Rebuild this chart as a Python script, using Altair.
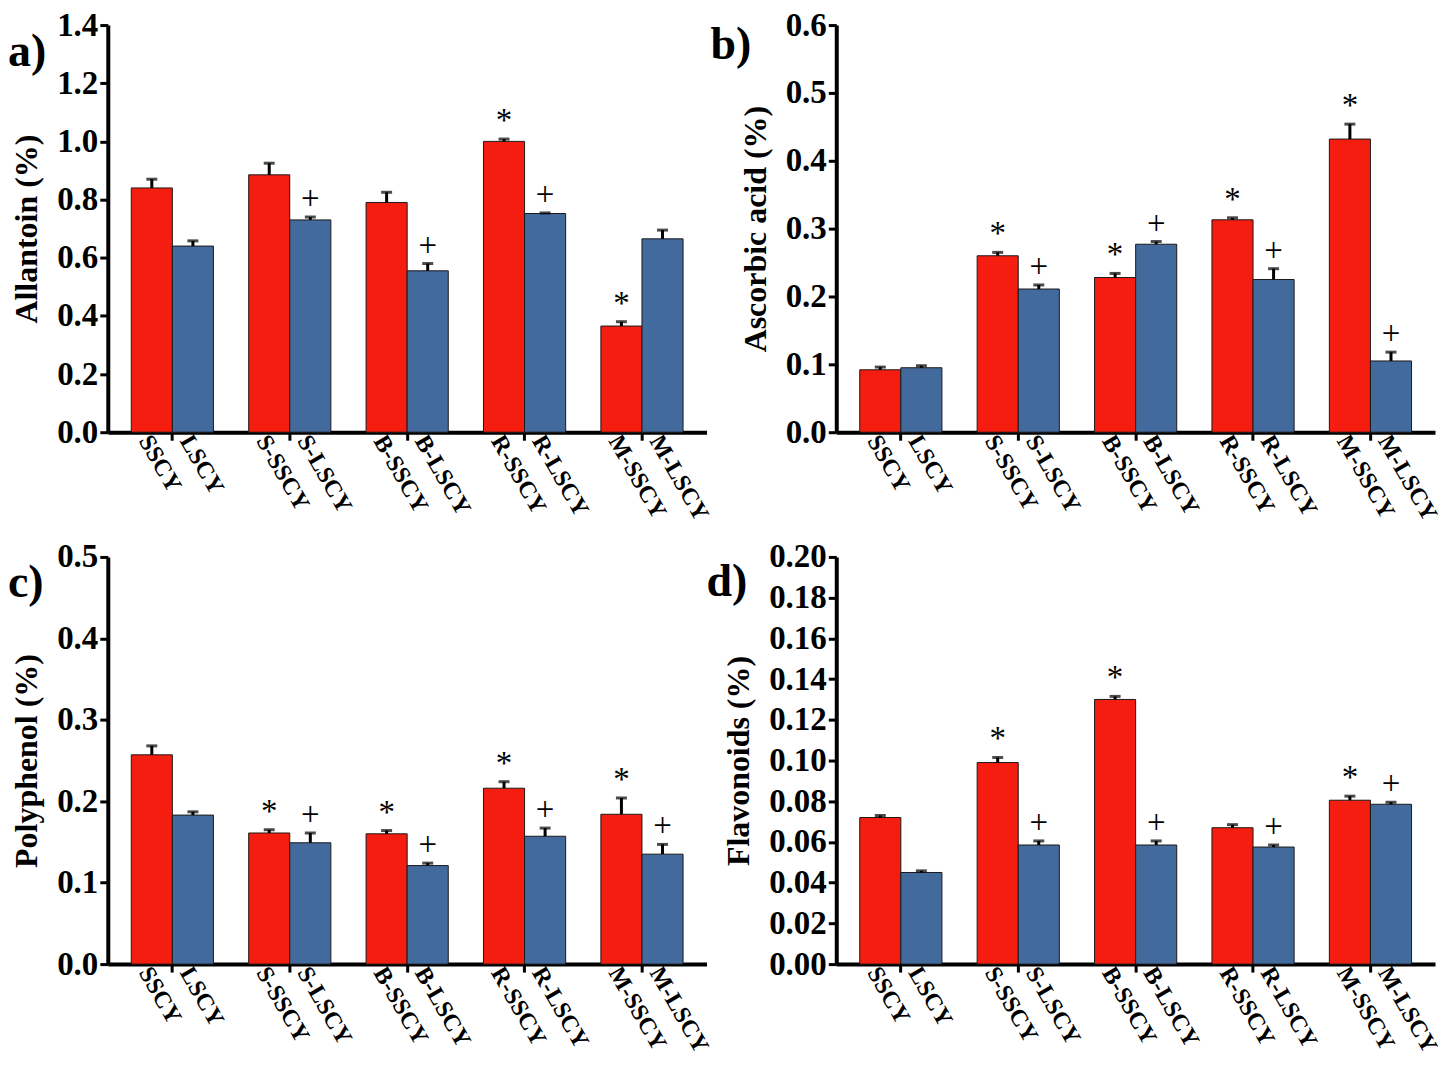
import altair as alt
import pandas as pd

# ---- data ----
groups = ["C", "S", "B", "R", "M"]
labels_S = ["SSCY", "S-SSCY", "B-SSCY", "R-SSCY", "M-SSCY"]
labels_L = ["LSCY", "S-LSCY", "B-LSCY", "R-LSCY", "M-LSCY"]

allantoin_S = [0.840, 0.885, 0.790, 1.000, 0.365]
allantoin_S_err = [0.030, 0.040, 0.035, 0.008, 0.015]
allantoin_L = [0.640, 0.730, 0.555, 0.752, 0.665]
allantoin_L_err = [0.018, 0.010, 0.025, 0.002, 0.030]
allantoin_S_sig = ["", "", "", "*", "*"]
allantoin_L_sig = ["", "+", "+", "+", ""]

ascorbic_S = [0.092, 0.260, 0.228, 0.313, 0.432]
ascorbic_S_err = [0.004, 0.005, 0.006, 0.003, 0.022]
ascorbic_L = [0.095, 0.211, 0.277, 0.225, 0.105]
ascorbic_L_err = [0.003, 0.006, 0.004, 0.016, 0.013]
ascorbic_S_sig = ["", "*", "*", "*", "*"]
ascorbic_L_sig = ["", "+", "+", "+", "+"]

polyphenol_S = [0.257, 0.161, 0.160, 0.216, 0.184]
polyphenol_S_err = [0.011, 0.004, 0.004, 0.008, 0.020]
polyphenol_L = [0.183, 0.149, 0.121, 0.157, 0.135]
polyphenol_L_err = [0.004, 0.012, 0.003, 0.010, 0.012]
polyphenol_S_sig = ["", "*", "*", "*", "*"]
polyphenol_L_sig = ["", "+", "+", "+", "+"]

flavonoid_S = [0.072, 0.099, 0.130, 0.067, 0.0805]
flavonoid_S_err = [0.001, 0.0025, 0.0015, 0.0015, 0.002]
flavonoid_L = [0.045, 0.0585, 0.0585, 0.0575, 0.0785]
flavonoid_L_err = [0.0008, 0.002, 0.002, 0.001, 0.001]
flavonoid_S_sig = ["", "*", "*", "", "*"]
flavonoid_L_sig = ["", "+", "+", "+", "+"]

RED = "#F51D0F"
BLUE = "#436A9C"
FONT = "Liberation Serif"


def make_df(vs, es, ss, vl, el, sl):
    rows = []
    for i, g in enumerate(groups):
        rows.append(dict(group=g, type="S", label=labels_S[i], value=vs[i], err=es[i], sig=ss[i]))
        rows.append(dict(group=g, type="L", label=labels_L[i], value=vl[i], err=el[i], sig=sl[i]))
    return pd.DataFrame(rows)


def panel(df, ymax, ticks, fmt, title, tag, tag_x, tag_y, W, H):
    xenc = alt.X("group:N", sort=groups,
                 scale=alt.Scale(paddingInner=0.3, paddingOuter=0.2),
                 axis=alt.Axis(labels=False, title=None, ticks=True, tickSize=8,
                               tickWidth=3, tickColor="black", domainWidth=4,
                               domainColor="black", grid=False))
    xoff = alt.XOffset("type:N", sort=["S", "L"])
    yenc = alt.Y("value:Q", scale=alt.Scale(domain=[0, ymax], nice=False, zero=True),
                 axis=alt.Axis(values=ticks, format=fmt, title=title,
                               labelFont=FONT, labelFontWeight="bold", labelFontSize=33,
                               labelColor="black", labelPadding=2,
                               titleFont=FONT, titleFontWeight="bold", titleFontSize=32,
                               titleColor="black", titlePadding=13,
                               tickSize=8, tickWidth=3, tickColor="black",
                               domainWidth=4, domainColor="black", grid=False))
    base = alt.Chart(df).transform_calculate(top="datum.value + datum.err")
    bars = base.mark_bar(stroke="#1a1a1a", strokeWidth=1).encode(
        x=xenc, xOffset=xoff, y=yenc,
        color=alt.Color("type:N", scale=alt.Scale(domain=["S", "L"], range=[RED, BLUE]), legend=None))
    err = base.mark_rule(strokeWidth=3, color="black").encode(
        x=xenc, xOffset=xoff, y="value:Q", y2="top:Q")
    cap = base.mark_tick(thickness=3, size=11, color="black").encode(
        x=xenc, xOffset=xoff, y="top:Q")
    sig = base.mark_text(font=FONT, fontSize=33, baseline="alphabetic", dy=-8, color="black").encode(
        x=xenc, xOffset=xoff, y="top:Q", text="sig:N")
    xl = base.mark_text(font=FONT, fontWeight="bold", fontSize=24, angle=60, align="left",
                        baseline="middle", dx=-15, color="black").encode(
        x=xenc, xOffset=xoff, y=alt.value(H + 18), text="label:N")
    tg = alt.Chart(pd.DataFrame({"t": [tag]})).mark_text(
        font=FONT, fontWeight="bold", fontSize=46, align="left", baseline="alphabetic",
        color="black").encode(x=alt.value(tag_x), y=alt.value(tag_y), text="t:N")
    return alt.layer(bars, err, cap, sig, xl, tg).properties(width=W, height=H)


W = 600
pa = panel(make_df(allantoin_S, allantoin_S_err, allantoin_S_sig, allantoin_L, allantoin_L_err, allantoin_L_sig),
           1.4, [0, 0.2, 0.4, 0.6, 0.8, 1.0, 1.2, 1.4], ".1f", "Allantoin (%)", "a)", -100, 41, W, 408)
pb = panel(make_df(ascorbic_S, ascorbic_S_err, ascorbic_S_sig, ascorbic_L, ascorbic_L_err, ascorbic_L_sig),
           0.6, [0, 0.1, 0.2, 0.3, 0.4, 0.5, 0.6], ".1f", "Ascorbic acid (%)", "b)", -126, 34, W, 408)
pc = panel(make_df(polyphenol_S, polyphenol_S_err, polyphenol_S_sig, polyphenol_L, polyphenol_L_err, polyphenol_L_sig),
           0.5, [0, 0.1, 0.2, 0.3, 0.4, 0.5], ".1f", "Polyphenol (%)", "c)", -100, 40, W, 408)
pd_ = panel(make_df(flavonoid_S, flavonoid_S_err, flavonoid_S_sig, flavonoid_L, flavonoid_L_err, flavonoid_L_sig),
            0.2, [0, 0.02, 0.04, 0.06, 0.08, 0.10, 0.12, 0.14, 0.16, 0.18, 0.20], ".2f", "Flavonoids (%)", "d)", -130, 39, W, 408)

chart = alt.concat(pa, pb, pc, pd_, columns=2, bounds="flush",
                   spacing={"row": 125, "column": 130}).properties(
    padding=0, background="white").configure_view(strokeWidth=0, stroke="transparent")

chart.save("out.html", embed_options={"renderer": "svg", "actions": False})
